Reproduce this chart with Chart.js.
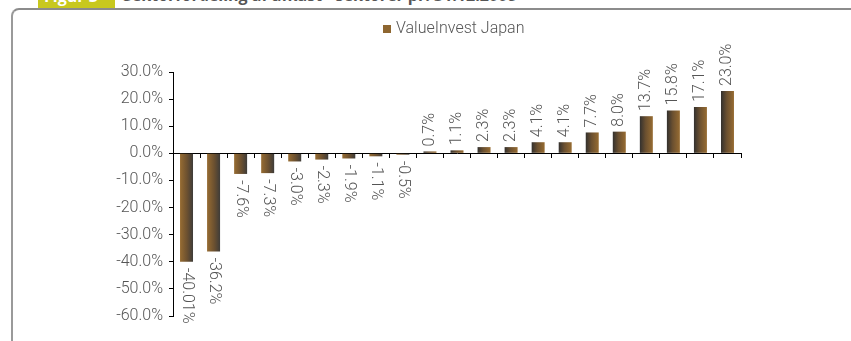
<!DOCTYPE html>
<html>
<head>
<meta charset="utf-8">
<script src="https://cdn.jsdelivr.net/npm/chart.js@4.4.1/dist/chart.umd.min.js"></script>
<style>
  html, body { margin: 0; padding: 0; background: #fff; overflow: hidden; }
  #wrap { position: relative; width: 851px; height: 341px; overflow: hidden; }
  #frame { position: absolute; left: 11px; top: 8px; width: 900px; height: 400px;
           border-top: 2px solid #8c8c8c; border-left: 2px solid #9a9a9a; border-top-left-radius: 8px; }
  #figno { position: absolute; left: 38px; top: 0; width: 77px; height: 8px; background: #c8c81e; overflow: hidden; }
  #figno span { position: absolute; left: 6px; top: -15px; font: bold 16px "Open Sans", sans-serif; color: #fff; }
  #ttl { position: absolute; left: 123px; top: -16px; font: bold 16px "Open Sans", sans-serif; color: #555; white-space: nowrap; }
  canvas { position: absolute; left: 0; top: 0; }
</style>
</head>
<body>
<div id="wrap">
  <div id="frame"></div>
  <div id="figno"><span>Figur 3</span></div>
  <div id="ttl">Sektorfordeling af afkast - sektorer pr. 31.12.2008</div>
  <canvas id="chart" width="851" height="341"></canvas>
</div>
<script>
// DATA //
var sectors = ['S1','S2','S3','S4','S5','S6','S7','S8','S9','S10','S11',
               'S12','S13','S14','S15','S16','S17','S18','S19','S20','S21'];
var returns = [-40.01, -36.2, -7.6, -7.3, -3.0, -2.3, -1.9, -1.1, -0.5, 0.7, 1.1,
               2.3, 2.3, 4.1, 4.1, 7.7, 8.0, 13.7, 15.8, 17.1, 23.0];
var returnLabels = ['-40.01%', '-36.2%', '-7.6%', '-7.3%', '-3.0%', '-2.3%', '-1.9%', '-1.1%', '-0.5%',
                    '0.7%', '1.1%', '2.3%', '2.3%', '4.1%', '4.1%', '7.7%', '8.0%', '13.7%', '15.8%', '17.1%', '23.0%'];
var seriesName = 'ValueInvest Japan';
var yMin = -60, yMax = 30, yStep = 10;

var FONT = 'Roboto';
var TXT = '#555555';
var BROWN = '#8e6630';

// bar fill: dark on one side, brown on the other (flipped for negative bars)
function barFill(context) {
    var chart = context.chart;
    var xs = chart.scales.x;
    if (!xs || context.dataIndex === undefined) return BROWN;
    var cx = xs.getPixelForValue(context.dataIndex);
    if (!isFinite(cx)) return BROWN;
    var g = chart.ctx.createLinearGradient(cx - 7, 0, cx + 7, 0);
    var v = returns[context.dataIndex];
    if (v >= 0) {
        g.addColorStop(0, '#2e2e2e');
        g.addColorStop(0.45, '#6b5030');
        g.addColorStop(1, '#9a6e32');
    } else {
        g.addColorStop(0, '#9a6e32');
        g.addColorStop(0.55, '#6b5030');
        g.addColorStop(1, '#3a3a3a');
    }
    return g;
}

// LABELS ON BARS //
var barLabels = {
    id: 'barLabels',
    afterDatasetsDraw: function(chart) {
        var ctx = chart.ctx;
        var meta = chart.getDatasetMeta(0);
        ctx.save();
        ctx.font = '300 16px ' + FONT;
        ctx.fillStyle = TXT;
        ctx.textAlign = 'left';
        ctx.textBaseline = 'middle';
        meta.data.forEach(function(bar, i) {
            ctx.save();
            if (returns[i] >= 0) {
                ctx.translate(bar.x, bar.y - 5);
                ctx.rotate(-Math.PI / 2);
            } else {
                ctx.translate(bar.x, bar.y + 6);
                ctx.rotate(Math.PI / 2);
            }
            ctx.fillText(returnLabels[i], 0, 0);
            ctx.restore();
        });
        ctx.restore();
    }
};

// LEGEND //
var legendBox = {
    id: 'legendBox',
    afterDraw: function(chart) {
        var ctx = chart.ctx;
        ctx.save();
        ctx.fillStyle = BROWN;
        ctx.fillRect(383, 25, 8, 8);
        ctx.font = '300 16px ' + FONT;
        ctx.fillStyle = TXT;
        ctx.textAlign = 'left';
        ctx.textBaseline = 'middle';
        ctx.fillText(seriesName, 396, 29);
        ctx.restore();
    }
};

var chart = new Chart(document.getElementById('chart'), {
    type: 'bar',
    data: {
        labels: sectors,
        datasets: [{
            label: seriesName,
            data: returns,
            backgroundColor: barFill,
            borderWidth: 0,
            categoryPercentage: 1,
            barPercentage: 0.48
        }]
    },
    options: {
        responsive: false,
        animation: false,
        layout: { padding: { top: 72, right: 110, bottom: 25, left: 0 } },
        plugins: {
            legend: { display: false },
            tooltip: { enabled: false }
        },
        scales: {
            x: {
                position: { y: 0 },
                ticks: { display: false },
                grid: { drawOnChartArea: false, tickLength: 4, color: '#000', offset: true },
                border: { display: true, color: '#000', width: 1 }
            },
            y: {
                min: yMin,
                max: yMax,
                afterFit: function(scale) { scale.width = 173; },
                ticks: {
                    stepSize: yStep,
                    padding: 6,
                    color: TXT,
                    font: { family: FONT, size: 16, weight: '300' },
                    callback: function(v) { return v.toFixed(1) + '%'; }
                },
                grid: { drawOnChartArea: false, tickLength: 4, color: '#000' },
                border: { display: true, color: '#000', width: 1 }
            }
        }
    },
    plugins: [barLabels, legendBox]
});
</script>
</body>
</html>
